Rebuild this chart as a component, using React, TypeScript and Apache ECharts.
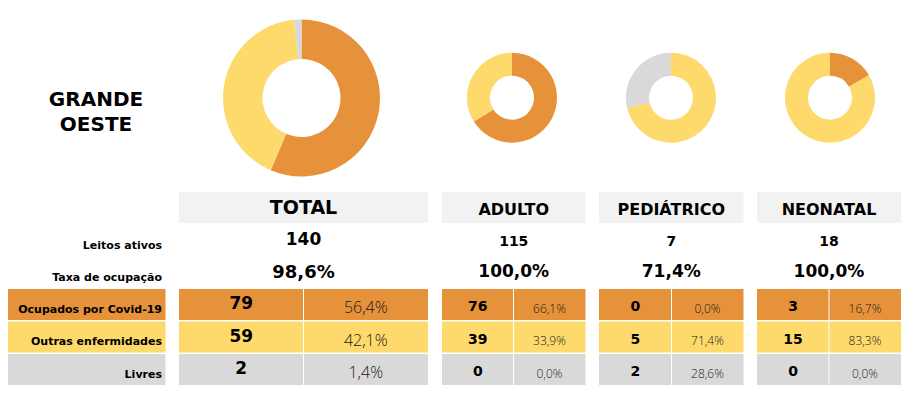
import React, { useEffect, useRef } from "react";
import * as echarts from "echarts";

// ---- Data ----
const regionName = "GRANDE\nOESTE";
const categories = ["TOTAL", "ADULTO", "PEDIÁTRICO", "NEONATAL"];
const leitosAtivos = [140, 115, 7, 18];
const taxaOcupacao = ["98,6%", "100,0%", "71,4%", "100,0%"];
const ocupadosCovid = [79, 76, 0, 3];
const ocupadosCovidPct = ["56,4%", "66,1%", "0,0%", "16,7%"];
const outrasEnfermidades = [59, 39, 5, 15];
const outrasEnfermidadesPct = ["42,1%", "33,9%", "71,4%", "83,3%"];
const livres = [2, 0, 2, 0];
const livresPct = ["1,4%", "0,0%", "28,6%", "0,0%"];
const rowLabels = ["Ocupados por Covid-19", "Outras enfermidades", "Livres"];
const infoLabels = ["Leitos ativos", "Taxa de ocupação"];

// ---- Styles / layout ----
const ORANGE = "#E6923A";
const YELLOW = "#FED96C";
const GREY = "#D9D9D9";
const HEAD = "#F2F2F2";
const FONT = "DejaVu Sans";
const LIGHT_FONT = "Open Sans";

const colBounds = [
  [179, 303.5, 428],
  [442, 513.5, 585.5],
  [599, 671.5, 743.5],
  [757, 829, 901],
];
const donutGeom = [
  { cx: 301.5, cy: 98, r0: 39, r1: 78.5 },
  { cx: 512, cy: 97.7, r0: 22, r1: 45 },
  { cx: 671, cy: 97.7, r0: 22, r1: 45 },
  { cx: 830, cy: 97.7, r0: 22, r1: 45 },
];
const headerY = [192, 223];
const rowTops = [289, 321.5, 354];
const rowH = 31;
const rowColors = [ORANGE, YELLOW, GREY];

export default function App() {
  const ref = useRef<HTMLDivElement>(null);
  useEffect(() => {
    if (!ref.current) return;
    const chart = echarts.init(ref.current, undefined, { renderer: "svg" });

    const series: any[] = categories.map((c, i) => ({
      type: "pie",
      name: c,
      center: [donutGeom[i].cx, donutGeom[i].cy],
      radius: [donutGeom[i].r0, donutGeom[i].r1],
      startAngle: 90,
      clockwise: true,
      label: { show: false },
      labelLine: { show: false },
      emphasis: { disabled: true },
      silent: true,
      data: [
        { name: rowLabels[0], value: ocupadosCovid[i], itemStyle: { color: ORANGE } },
        { name: rowLabels[1], value: outrasEnfermidades[i], itemStyle: { color: YELLOW } },
        { name: rowLabels[2], value: livres[i], itemStyle: { color: GREY } },
      ],
    }));

    const g: any[] = [];
    // region title
    g.push({
      type: "text",
      x: 96,
      y: 111,
      style: {
        text: regionName,
        font: `bold 20px "${FONT}"`,
        fill: "#000",
        align: "center",
        verticalAlign: "middle",
        lineHeight: 25,
      },
    });

    const rowCounts = [ocupadosCovid, outrasEnfermidades, livres];
    const rowPcts = [ocupadosCovidPct, outrasEnfermidadesPct, livresPct];

    categories.forEach((c, i) => {
      const [l, m, r] = colBounds[i];
      const big = i === 0;
      // header box
      g.push({
        type: "rect",
        shape: { x: l, y: headerY[0], width: r - l, height: headerY[1] - headerY[0] },
        style: { fill: HEAD },
      });
      g.push({
        type: "text",
        x: (l + r) / 2,
        y: big ? 207 : 209.5,
        style: {
          text: c,
          font: `bold ${big ? 19 : 16}px "${FONT}"`,
          fill: "#000",
          align: "center",
          verticalAlign: "middle",
        },
      });
      // leitos ativos
      g.push({
        type: "text",
        x: (l + r) / 2,
        y: big ? 239 : 241,
        style: {
          text: String(leitosAtivos[i]),
          font: `bold ${big ? 17 : 14}px "${FONT}"`,
          fill: "#000",
          align: "center",
          verticalAlign: "middle",
        },
      });
      // taxa
      g.push({
        type: "text",
        x: (l + r) / 2,
        y: 271,
        style: {
          text: taxaOcupacao[i],
          font: `bold ${big ? 18 : 17}px "${FONT}"`,
          fill: "#000",
          align: "center",
          verticalAlign: "middle",
        },
      });
      // rows
      rowTops.forEach((y, k) => {
        g.push({
          type: "rect",
          shape: { x: l, y, width: m - l - 0.5, height: rowH },
          style: { fill: rowColors[k] },
        });
        g.push({
          type: "rect",
          shape: { x: m + 0.5, y, width: r - m - 0.5, height: rowH },
          style: { fill: rowColors[k] },
        });
        g.push({
          type: "text",
          x: (l + m) / 2,
          y: y + (big ? 14 : 17),
          style: {
            text: String(rowCounts[k][i]),
            font: `bold ${big ? 17 : 14}px "${FONT}"`,
            fill: "#000",
            align: "center",
            verticalAlign: "middle",
          },
        });
        g.push({
          type: "text",
          x: (m + r) / 2,
          y: y + (big ? 18 : 19),
          style: {
            text: rowPcts[k][i],
            font: `300 ${big ? 16 : 12}px "${LIGHT_FONT}"`,
            fill: "#1a1a1a",
            align: "center",
            verticalAlign: "middle",
          },
        });
      });
    });

    // row label cells
    rowTops.forEach((y, k) => {
      g.push({
        type: "rect",
        shape: { x: 8, y, width: 157.5, height: rowH },
        style: { fill: rowColors[k] },
      });
      g.push({
        type: "text",
        x: 162,
        y: y + 20,
        style: {
          text: rowLabels[k],
          font: `bold 11px "${FONT}"`,
          fill: "#000",
          align: "right",
          verticalAlign: "middle",
        },
      });
    });
    infoLabels.forEach((t, k) => {
      g.push({
        type: "text",
        x: 162,
        y: k === 0 ? 245 : 277,
        style: {
          text: t,
          font: `bold 11px "${FONT}"`,
          fill: "#000",
          align: "right",
          verticalAlign: "middle",
        },
      });
    });

    chart.setOption({
      animation: false,
      backgroundColor: "#fff",
      series,
      graphic: g,
    });
    return () => chart.dispose();
  }, []);

  return (
    <div
      ref={ref}
      style={{ position: "fixed", left: 0, top: 0, width: 919, height: 399 }}
    />
  );
}
